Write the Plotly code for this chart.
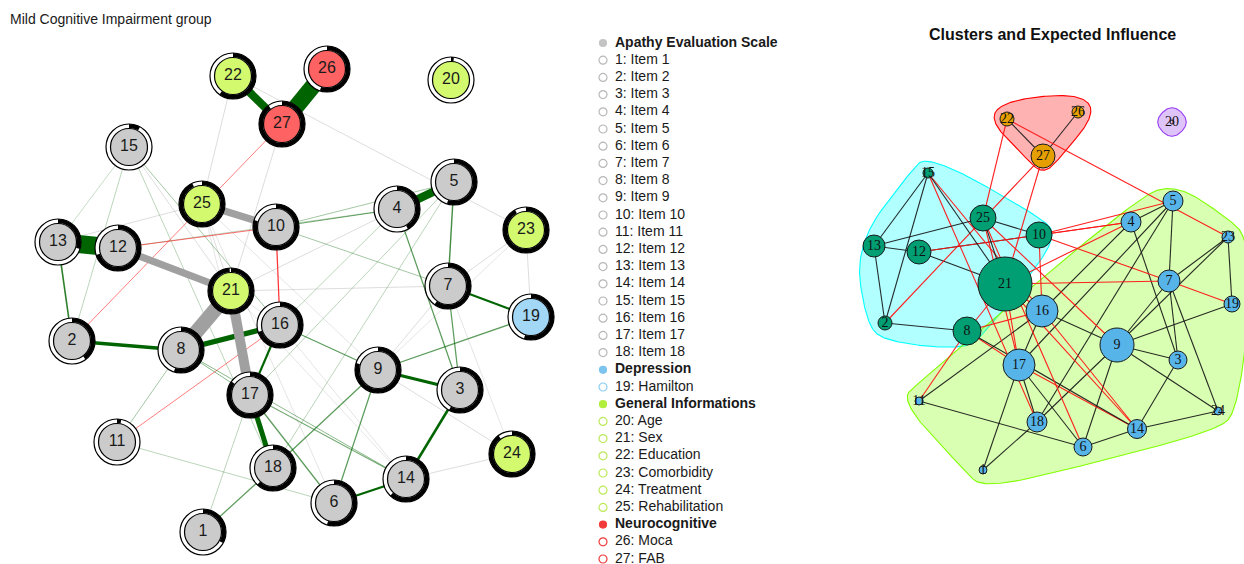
import numpy as np
import plotly.graph_objects as go

W, H = 1244, 564

# ---------------- node data ----------------
node_ids = list(range(1, 28))
group_names = ["Apathy Evaluation Scale", "Depression", "General Informations", "Neurocognitive"]
node_group = [0] * 18 + [1] + [2] * 6 + [3] * 2
node_names = [f"Item {i}" for i in range(1, 19)] + [
    "Hamilton", "Age", "Sex", "Education", "Comorbidity", "Treatment",
    "Rehabilitation", "Moca", "FAB"]

# node predictability (drawn as the pie ring)
predictability = [0.33, 0.40, 0.58, 0.42, 0.55, 0.55, 0.60, 0.55, 0.80, 0.80,
                  0.03, 0.70, 0.30, 0.62, 0.08, 0.70, 0.85, 0.62, 0.55, 0.02,
                  0.99, 0.60, 0.92, 0.90, 0.93, 0.55, 0.90]

# spring layout of the network (left panel)
layout_left_x = [203, 72, 460, 397, 454, 334, 448, 181, 378, 276, 117, 118, 58, 406,
                 129, 280, 250, 273, 531, 451, 231, 233, 526, 512, 202, 327, 282]
layout_left_y = [532, 341, 390, 209, 182, 503, 286, 350, 370, 227, 442, 248, 242, 479,
                 147, 325, 395, 468, 317, 80, 291, 76, 230, 454, 204, 69, 124]

# layout of the cluster network (right panel)
layout_right_x = [983, 885, 1178, 1131, 1173, 1083, 1169, 967, 1117, 1039, 919, 919, 874, 1137,
                  928, 1042, 1019, 1037, 1232, 1172, 1005, 1007, 1228, 1218, 983, 1078, 1043]
layout_right_y = [470, 323, 360, 222, 201, 447, 281, 331, 345, 235, 401, 252, 246, 429,
                  173, 311, 365, 422, 304, 122, 284, 119, 237, 411, 218, 112, 156]

# expected influence (node size in the right panel)
expected_influence = [0.4, 0.7, 0.9, 1.0, 1.0, 0.9, 1.1, 1.4, 1.7, 1.3, 0.4, 1.2, 1.1, 0.95,
                      0.5, 1.6, 1.6, 1.0, 0.8, 0.2, 2.7, 0.7, 0.6, 0.4, 1.3, 0.6, 1.2]

# community membership (right panel)
cluster = [3, 1, 3, 3, 3, 3, 3, 1, 3, 1, 3, 1, 1, 3,
           1, 3, 3, 3, 3, 2, 1, 0, 3, 3, 1, 0, 0]

# edges: from, to, |weight|, sign in mixed graphical model ('+', '-', '?'), sign in clustering network
edge_from = [12, 26, 22, 4, 8, 17, 12, 10, 8, 17, 2, 3, 3, 6, 16, 7, 2, 5, 3, 3, 9, 6, 9, 9,
             6, 14, 1, 4, 5, 7, 8, 8, 8, 10, 11, 2, 10, 4, 1, 6, 5, 5, 4, 2, 13, 15, 15, 15,
             13, 22, 21, 22, 21, 7, 4, 7, 7, 9, 14, 19, 7, 9, 14, 6, 17, 9, 16, 14]
edge_to = [13, 27, 27, 5, 21, 21, 21, 25, 16, 18, 8, 9, 14, 14, 17, 19, 13, 7, 4, 7, 19, 9, 18, 16,
           17, 17, 18, 10, 10, 10, 17, 14, 11, 16, 16, 27, 12, 12, 17, 11, 18, 17, 16, 15, 15, 16, 18, 21,
           25, 25, 27, 23, 25, 21, 21, 9, 24, 24, 24, 23, 23, 23, 16, 25, 25, 25, 21, 21]
edge_weight = [1.00, 0.90, 0.45, 0.45, 0.80, 0.55, 0.40, 0.40, 0.30, 0.28, 0.20, 0.17, 0.14, 0.13,
               0.12, 0.11, 0.09, 0.08, 0.07, 0.07, 0.07, 0.07, 0.07, 0.07, 0.07, 0.06, 0.07, 0.06,
               0.04, 0.04, 0.05, 0.05, 0.04, 0.07, 0.04, 0.04, 0.045, 0.03, 0.03, 0.03, 0.03, 0.03,
               0.03, 0.03, 0.02, 0.04, 0.03, 0.04, 0.04, 0.04, 0.04, 0.04, 0.04, 0.04, 0.04, 0.04,
               0.03, 0.04, 0.04, 0.04, 0.04, 0.03, 0.03, 0.03, 0.03, 0.03, 0.03, 0.03]
edge_sign = (["+"] * 4 + ["?"] * 4 + ["+"] * 25 + ["-"] * 4 + ["+"] * 10 + ["?"] * 21)
edge_sign_right = ["+", "+", "+", "+", "-", "-", "+", "+", "-", "+", "+", "+", "+", "+",
                   "+", "-", "+", "+", "+", "+", "+", "+", "+", "+", "+", "-", "+", "-",
                   "-", "-", "-", "+", "-", "-", "+", "-", "+", "-", "+", "+", "+", "+",
                   "+", "+", "+", "-", "-", "+", "+", "-", "-", "-", "+", "-", "-", "+",
                   "+", "+", "+", "+", "+", "+", "-", "-", "-", "-", "-", "-"]

# ---------------- styling ----------------
LEFT_FILL = ["#cbcbcb", "#a3d7f6", "#d3fa6f", "#ff6262"]
LEGEND_FILL = ["#c4c4c4", "#7cc4ee", "#b2ee3c", "#f23a3a"]
LEGEND_LINE = ["#b8b8b8", "#8ccdf2", "#bde85a", "#ee3b3b"]
CLUSTER_NODE = ["#E69F00", "#009E73", "#d2b8f7", "#56B4E9"]
CLUSTER_HULL = [(255, 0, 0), (0, 255, 255), (150, 60, 240), (128, 255, 0)]

fig = go.Figure()


def add_line(xs, ys, color, width):
    fig.add_trace(go.Scatter(x=xs, y=ys, mode="lines", hoverinfo="skip",
                             line=dict(color=color, width=width), showlegend=False))


idx = {n: i for i, n in enumerate(node_ids)}

# ---------------- left network: edges ----------------
order = np.argsort(edge_weight)
for k in order:
    a, b, w, s = idx[edge_from[k]], idx[edge_to[k]], edge_weight[k], edge_sign[k]
    alpha = float(np.clip(w / 0.11, 0.22, 1.0))
    width = max(1.0, 18 * w)
    if s == "+":
        col = f"rgba(0,100,0,{alpha:.2f})"
    elif s == "-":
        col = f"rgba(255,0,0,{min(1.0, alpha + 0.15):.2f})"
    else:
        col = f"rgba(160,160,160,{alpha:.2f})"
    add_line([layout_left_x[a], layout_left_x[b]], [layout_left_y[a], layout_left_y[b]], col, width)

# ---------------- left network: nodes ----------------
fig.add_trace(go.Scatter(x=layout_left_x, y=layout_left_y, mode="markers", hoverinfo="skip",
                         marker=dict(size=46, color="white", opacity=1,
                                     line=dict(color="black", width=1.2)),
                         showlegend=False))
R_IN, R_OUT = 19.0, 23.0
for i in node_ids:
    j = idx[i]
    frac = predictability[j]
    th = np.linspace(0, 2 * np.pi * frac, max(4, int(120 * frac)))
    cx, cy = layout_left_x[j], layout_left_y[j]
    xo = cx + R_OUT * np.sin(th)
    yo = cy - R_OUT * np.cos(th)
    xi = cx + R_IN * np.sin(th[::-1])
    yi = cy - R_IN * np.cos(th[::-1])
    fig.add_trace(go.Scatter(x=np.r_[xo, xi, xo[:1]], y=np.r_[yo, yi, yo[:1]], mode="lines",
                             fill="toself", fillcolor="black", line=dict(width=0, color="black"),
                             hoverinfo="skip", showlegend=False))
fig.add_trace(go.Scatter(x=layout_left_x, y=layout_left_y, mode="markers+text", hoverinfo="skip",
                         marker=dict(size=37, color=[LEFT_FILL[g] for g in node_group], opacity=1,
                                     line=dict(color="black", width=1.2)),
                         text=[str(i) for i in node_ids], textposition="middle center",
                         textfont=dict(family="Liberation Sans, Arial", size=16, color="#1a1a1a"),
                         showlegend=False))

# ---------------- legend ----------------
legend_rows = []
for g, gname in enumerate(group_names):
    legend_rows.append((f"<b>{gname}</b>", g, True))
    for i in node_ids:
        if node_group[idx[i]] == g:
            legend_rows.append((f"{i}: {node_names[idx[i]]}", g, False))
LEG_X, LEG_Y0, LEG_DY = 603, 43, 17.2
ly = [LEG_Y0 + r * LEG_DY for r in range(len(legend_rows))]
fig.add_trace(go.Scatter(
    x=[LEG_X] * len(legend_rows), y=ly, mode="markers", hoverinfo="skip",
    marker=dict(size=[7 if h else 8 for _, _, h in legend_rows], opacity=1,
                color=[LEGEND_FILL[g] if h else "white" for _, g, h in legend_rows],
                line=dict(color=[LEGEND_FILL[g] if h else LEGEND_LINE[g] for _, g, h in legend_rows],
                          width=1.2)),
    showlegend=False))
fig.add_trace(go.Scatter(
    x=[LEG_X + 12] * len(legend_rows), y=ly, mode="text", hoverinfo="skip",
    text=[t for t, _, _ in legend_rows], textposition="middle right",
    textfont=dict(family="Liberation Sans, Arial", size=14, color="#1a1a1a"),
    showlegend=False))


# ---------------- right network: cluster hulls ----------------
def convex_hull(pts):
    pts = sorted(set(pts))
    def cross(o, a, b):
        return (a[0] - o[0]) * (b[1] - o[1]) - (a[1] - o[1]) * (b[0] - o[0])
    lower, upper = [], []
    for p in pts:
        while len(lower) >= 2 and cross(lower[-2], lower[-1], p) <= 0:
            lower.pop()
        lower.append(p)
    for p in reversed(pts):
        while len(upper) >= 2 and cross(upper[-2], upper[-1], p) <= 0:
            upper.pop()
        upper.append(p)
    return lower[:-1] + upper[:-1]


def chaikin(poly, n_iter=5):
    p = np.array(poly, dtype=float)
    for _ in range(n_iter):
        q = np.roll(p, -1, axis=0)
        p = np.column_stack([0.75 * p + 0.25 * q, 0.25 * p + 0.75 * q]).reshape(-1, 2)
    return p


EXPAND = 19
for c in range(4):
    pts = []
    for j in range(27):
        if cluster[j] == c:
            x, y = layout_right_x[j], layout_right_y[j]
            pts += [(x, y), (x - EXPAND, y), (x + EXPAND, y), (x, y - EXPAND), (x, y + EXPAND)]
    hull = chaikin(convex_hull(pts))
    r, g, b = CLUSTER_HULL[c]
    fig.add_trace(go.Scatter(x=np.r_[hull[:, 0], hull[:1, 0]], y=np.r_[hull[:, 1], hull[:1, 1]],
                             mode="lines", fill="toself", fillcolor=f"rgba({r},{g},{b},0.3)",
                             line=dict(color=f"rgb({r},{g},{b})", width=1.1),
                             hoverinfo="skip", showlegend=False))

# ---------------- right network: edges ----------------
for k in range(len(edge_from)):
    a, b = idx[edge_from[k]], idx[edge_to[k]]
    col = "rgba(20,20,20,0.9)" if edge_sign_right[k] == "+" else "rgba(255,20,20,0.95)"
    add_line([layout_right_x[a], layout_right_x[b]], [layout_right_y[a], layout_right_y[b]], col, 1.1)

# ---------------- right network: nodes ----------------
EI_SCALE = 10
fig.add_trace(go.Scatter(
    x=layout_right_x, y=layout_right_y, mode="markers+text", hoverinfo="skip",
    marker=dict(size=[2 * EI_SCALE * e for e in expected_influence], opacity=1,
                color=[CLUSTER_NODE[c] for c in cluster],
                line=dict(color="#1a1a1a", width=1)),
    text=[str(i) for i in node_ids], textposition="middle center",
    textfont=dict(family="Liberation Serif, Times New Roman", size=14, color="#111111"),
    showlegend=False))

# ---------------- titles ----------------
fig.add_annotation(x=8, y=19, text="Mild Cognitive Impairment group", showarrow=False,
                   xanchor="left", yanchor="middle",
                   font=dict(family="Liberation Sans, Arial", size=14, color="#1a1a1a"))
fig.add_annotation(x=1052, y=34, text="<b>Clusters and Expected Influence</b>", showarrow=False,
                   xanchor="center", yanchor="middle",
                   font=dict(family="Liberation Sans, Arial", size=16, color="#111111"))

fig.update_layout(
    width=W, height=H, margin=dict(l=0, r=0, t=0, b=0),
    paper_bgcolor="white", plot_bgcolor="white",
    xaxis=dict(range=[0, W], visible=False, fixedrange=True),
    yaxis=dict(range=[H, 0], visible=False, fixedrange=True),
)

fig.write_html("out.html")
